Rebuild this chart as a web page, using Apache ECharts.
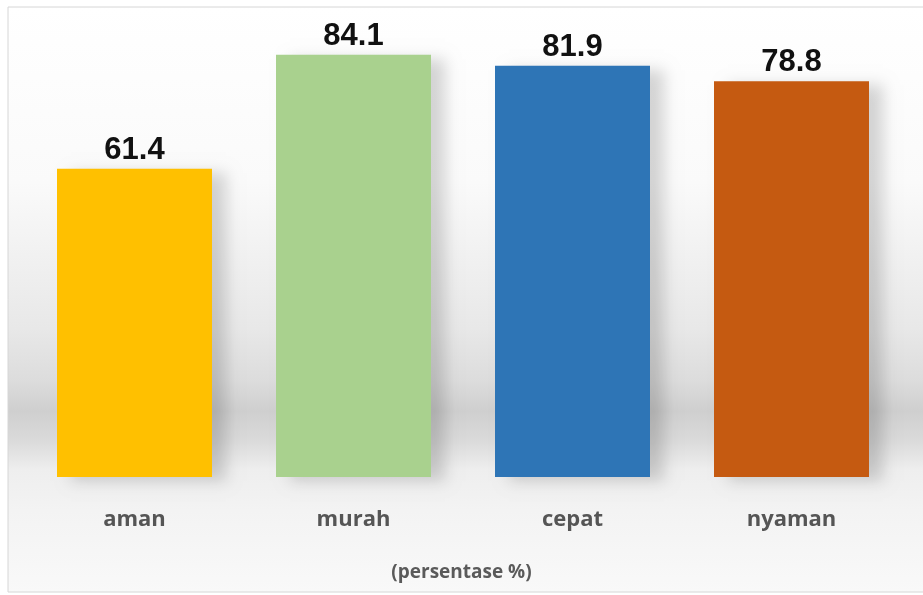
<html>
<head>
<meta charset="UTF-8">
<script src="https://cdn.jsdelivr.net/npm/echarts@6/dist/echarts.min.js"></script>
<style>
    html, body {margin: 0; padding: 0; background: #fff;}
</style>
</head>
<body>
<div id="chart" style="width:923px;height:595px;"></div>
<script>
    var categories = ['aman', 'murah', 'cepat', 'nyaman'];
    var values = [61.4, 84.1, 81.9, 78.8];
    var barColors = ['#FFC000', '#A9D18E', '#2E75B6', '#C55A11'];
    var axisTitle = '(persentase %)';

    var chart = echarts.init(document.getElementById('chart'));

    var data = [];
    for (var i = 0; i < values.length; i++) {
        data.push({value: values[i], itemStyle: {color: barColors[i]}});
    }

    var option = {
        animation: false,
        backgroundColor: '#fff',
        graphic: [
            {
                type: 'rect',
                z: -10,
                shape: {x: 8, y: 7, width: 930, height: 585},
                style: {
                    stroke: '#d6d6d6',
                    lineWidth: 1,
                    fill: {
                        type: 'linear', x: 0, y: 0, x2: 0, y2: 1,
                        colorStops: [
                            {offset: 0, color: '#ffffff'},
                            {offset: 0.3, color: '#fafafa'},
                            {offset: 0.55, color: '#e8e8e8'},
                            {offset: 0.64, color: '#dcdcdc'},
                            {offset: 0.69, color: '#cfcfcf'},
                            {offset: 0.74, color: '#dadada'},
                            {offset: 0.79, color: '#eeeeee'},
                            {offset: 0.86, color: '#f3f3f3'},
                            {offset: 1, color: '#f9f9f9'}
                        ]
                    }
                }
            },
            {
                type: 'text',
                left: 'center',
                top: 563,
                style: {
                    text: axisTitle,
                    fill: '#5a5a5a',
                    font: 'bold 19px "Open Sans"'
                }
            }
        ],
        grid: {left: 25, right: 22, top: 25, bottom: 118},
        xAxis: {
            type: 'category',
            data: categories,
            axisLine: {show: false},
            axisTick: {show: false},
            axisLabel: {
                margin: 32,
                color: '#555555',
                fontFamily: 'Open Sans',
                fontWeight: 'bold',
                fontSize: 22
            }
        },
        yAxis: {
            type: 'value',
            min: 0,
            max: 90,
            show: false,
            splitLine: {show: false}
        },
        series: [{
            type: 'bar',
            data: data,
            barWidth: 155,
            itemStyle: {
                shadowColor: 'rgba(0,0,0,0.16)',
                shadowBlur: 14,
                shadowOffsetX: 14,
                shadowOffsetY: 4
            },
            label: {
                show: true,
                position: 'top',
                distance: 3,
                color: '#111',
                fontFamily: 'Liberation Sans',
                fontWeight: 'bold',
                fontSize: 31
            }
        }]
    };
    chart.setOption(option);
</script>
</body>
</html>
